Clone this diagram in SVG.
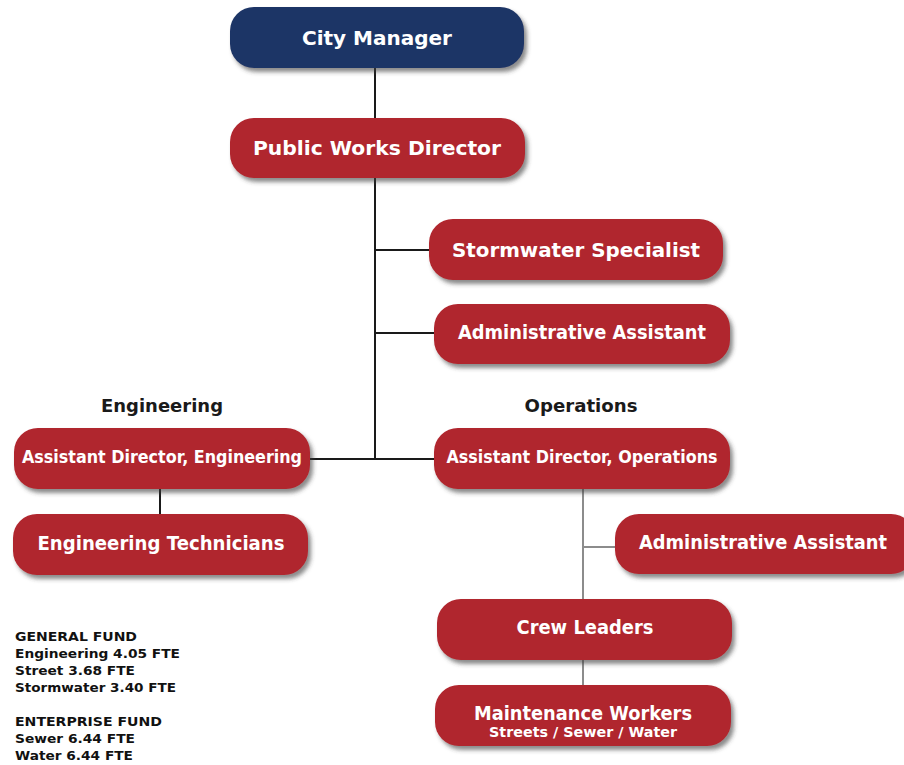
<svg xmlns="http://www.w3.org/2000/svg" width="904" height="765" viewBox="0 0 904 765">
  <style>
    .box { fill: #B0252D; filter: url(#shadow); }
    .navy { fill: #1F3566; }
    .t { font-family: "DejaVu Sans", Verdana, sans-serif; font-weight: bold; fill: #FFFFFF; text-anchor: middle; }
    .lbl { font-family: "DejaVu Sans", Verdana, sans-serif; font-weight: bold; fill: #1A1A1A; text-anchor: middle; font-size: 17px; }
    .fund { font-family: "DejaVu Sans", Verdana, sans-serif; font-weight: bold; fill: #111111; font-size: 13px; }
    .ln { stroke: #1A1A1A; stroke-width: 2; fill: none; }
    .lg { stroke: #8C8C8C; stroke-width: 2; fill: none; }
  </style>
  <defs>
    <filter id="shadow" x="-10%" y="-20%" width="125%" height="150%">
      <feDropShadow dx="3" dy="4" stdDeviation="2.2" flood-color="#3A3A3A" flood-opacity="0.6"/>
    </filter>
  </defs>
  <rect width="904" height="765" fill="#FFFFFF"/>

  <!-- connectors -->
  <g id="connectors">
    <path class="ln" d="M375 68 V118 M375 178 V459 M375 250 H429 M375 333 H434 M310 459 H434"/>
    <path class="ln" d="M160 489 V514"/>
    <path class="lg" d="M583 489 V685 M583 547 H615"/>
  </g>

  <g id="city-manager">
    <rect class="box navy" x="230" y="7" width="294" height="61" rx="24"/>
    <text class="t" x="377" y="44.5" font-size="20" textLength="150" lengthAdjust="spacingAndGlyphs">City Manager</text>
  </g>

  <g id="public-works-director">
    <rect class="box" x="230" y="118" width="295" height="60" rx="24"/>
    <text class="t" x="377" y="155" font-size="20" textLength="248" lengthAdjust="spacingAndGlyphs">Public Works Director</text>
  </g>

  <g id="stormwater-specialist">
    <rect class="box" x="429" y="219" width="294" height="61" rx="24"/>
    <text class="t" x="576" y="256.5" font-size="20" textLength="248" lengthAdjust="spacingAndGlyphs">Stormwater Specialist</text>
  </g>

  <g id="admin-assistant-director">
    <rect class="box" x="434" y="304" width="296" height="60" rx="24"/>
    <text class="t" x="582" y="339" font-size="19" textLength="248" lengthAdjust="spacingAndGlyphs">Administrative Assistant</text>
  </g>

  <g id="label-engineering">
    <text class="lbl" x="162" y="412" textLength="122" lengthAdjust="spacingAndGlyphs">Engineering</text>
  </g>
  <g id="label-operations">
    <text class="lbl" x="581" y="412" textLength="113" lengthAdjust="spacingAndGlyphs">Operations</text>
  </g>

  <g id="assistant-director-engineering">
    <rect class="box" x="14" y="428" width="296" height="61" rx="24"/>
    <text class="t" x="162" y="463" font-size="17" textLength="280" lengthAdjust="spacingAndGlyphs">Assistant Director, Engineering</text>
  </g>

  <g id="engineering-technicians">
    <rect class="box" x="13" y="514" width="295" height="61" rx="24"/>
    <text class="t" x="161" y="549.5" font-size="19.5" textLength="247" lengthAdjust="spacingAndGlyphs">Engineering Technicians</text>
  </g>

  <g id="assistant-director-operations">
    <rect class="box" x="434" y="428" width="296" height="61" rx="24"/>
    <text class="t" x="582" y="463" font-size="17" textLength="271" lengthAdjust="spacingAndGlyphs">Assistant Director, Operations</text>
  </g>

  <g id="admin-assistant-operations">
    <rect class="box" x="615" y="514" width="300" height="60" rx="24"/>
    <text class="t" x="763" y="549" font-size="19" textLength="248" lengthAdjust="spacingAndGlyphs">Administrative Assistant</text>
  </g>

  <g id="crew-leaders">
    <rect class="box" x="437" y="599" width="295" height="61" rx="24"/>
    <text class="t" x="585" y="634" font-size="19.5" textLength="137" lengthAdjust="spacingAndGlyphs">Crew Leaders</text>
  </g>

  <g id="maintenance-workers">
    <rect class="box" x="435" y="685" width="296" height="61" rx="24"/>
    <text class="t" x="583" y="720" font-size="19" textLength="218" lengthAdjust="spacingAndGlyphs">Maintenance Workers</text>
    <text class="t" x="583" y="737" font-size="14" textLength="188" lengthAdjust="spacingAndGlyphs">Streets / Sewer / Water</text>
  </g>

  <!-- staffing summary -->
  <g id="fund-summary">
    <text class="fund" x="15" y="641" textLength="122" lengthAdjust="spacingAndGlyphs">GENERAL FUND</text>
    <text class="fund" x="15" y="658" textLength="165" lengthAdjust="spacingAndGlyphs">Engineering 4.05 FTE</text>
    <text class="fund" x="15" y="675" textLength="120" lengthAdjust="spacingAndGlyphs">Street 3.68 FTE</text>
    <text class="fund" x="15" y="692" textLength="161" lengthAdjust="spacingAndGlyphs">Stormwater 3.40 FTE</text>
    <text class="fund" x="15" y="726" textLength="147" lengthAdjust="spacingAndGlyphs">ENTERPRISE FUND</text>
    <text class="fund" x="15" y="743" textLength="120" lengthAdjust="spacingAndGlyphs">Sewer 6.44 FTE</text>
    <text class="fund" x="15" y="760" textLength="118" lengthAdjust="spacingAndGlyphs">Water 6.44 FTE</text>
  </g>
</svg>
